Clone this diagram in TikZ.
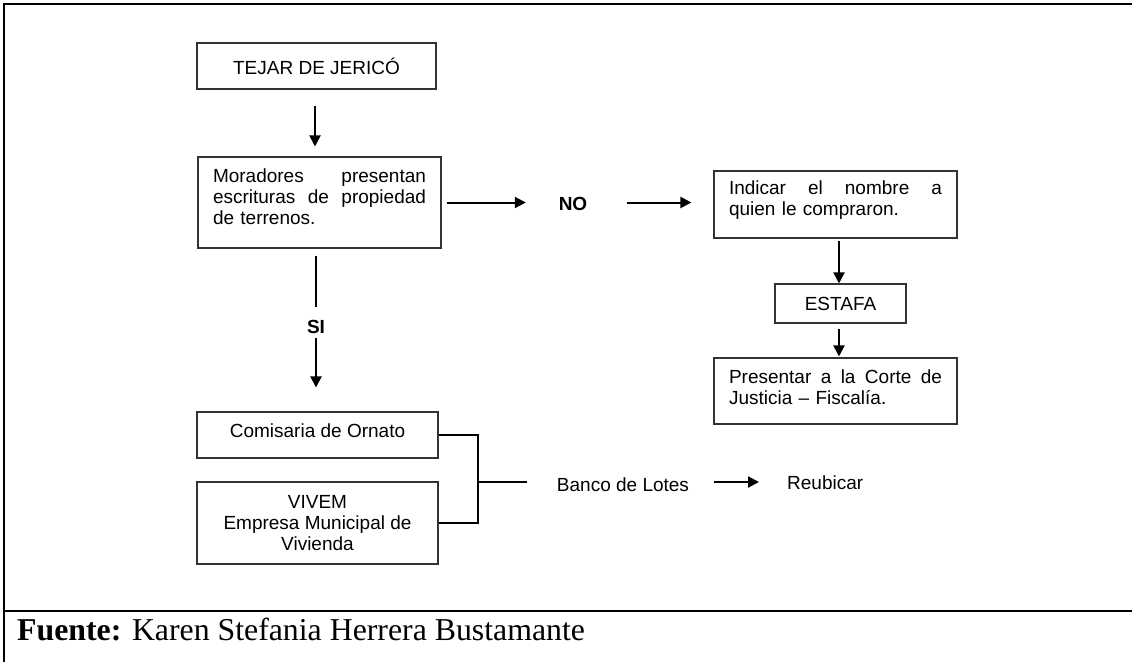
\documentclass[tikz,border=0pt]{standalone}
\usepackage{fontspec}
\setmainfont{Liberation Sans}
\newfontfamily\timesf{Liberation Serif}
\usetikzlibrary{arrows.meta}
\begin{document}
\begin{tikzpicture}[x=1pt,y=-1pt,
  box/.style={draw=black!80, line width=1.1pt, inner sep=0pt, font=\fontsize{19}{21}\selectfont},
  txt/.style={inner sep=0pt, font=\fontsize{19}{21}\selectfont},
  btxt/.style={inner sep=0pt, font=\fontsize{19}{21}\selectfont\bfseries},
  arr/.style={line width=2pt, -{Triangle[length=11pt,width=11pt]}},
  plain/.style={line width=2pt},
  thinl/.style={line width=1.1pt},
  frame/.style={line width=2.5pt}]
\useasboundingbox (0,0) rectangle (1132,662);
% outer frame
\draw[frame] (4,662) -- (4,4) -- (1132,4);
\draw[frame] (4,611) -- (1132,611);
% left column
\node[box, minimum width=239pt, minimum height=46pt] (tej) at (316.5,66) {TEJAR DE JERICÓ};
\node[box, minimum width=243pt, minimum height=91pt] (mor) at (319.5,202.5) {};
\node[txt, text width=213pt, align=left] (mort) at (319.5,197)
  {\makebox[213pt]{Moradores\hfill presentan}\\\makebox[213pt]{escrituras\hfill de\hfill propiedad}\\de terrenos.};
\node[btxt] (si) at (316,327) {SI};
\node[box, minimum width=241pt, minimum height=46pt] (com) at (317.5,435) {};
\node[txt] (comt) at (317.5,431) {Comisaria de Ornato};
\node[box, minimum width=241pt, minimum height=82pt, align=center] (viv) at (317.5,523)
  {VIVEM\\Empresa Municipal de\\Vivienda};
% right column
\node[btxt] (no) at (573,204) {NO};
\node[box, minimum width=243pt, minimum height=67pt] (ind) at (835.5,204.5) {};
\node[txt, text width=213pt, align=left] (indt) at (835.5,200.5)
  {\makebox[213pt]{Indicar\hfill el\hfill nombre\hfill a}\\quien le compraron.};
\node[box, minimum width=131pt, minimum height=39pt] (est) at (840.5,303.5) {ESTAFA};
\node[box, minimum width=243pt, minimum height=66pt] (pre) at (835.5,391) {};
\node[txt, text width=213pt, align=left] (pret) at (835.5,387)
  {\makebox[213pt]{Presentar\hfill a\hfill la\hfill Corte\hfill de}\\Justicia -- Fiscalía.};
% bottom middle
\node[txt] (ban) at (623,485) {Banco de Lotes};
\node[txt, anchor=west] (reu) at (787,483) {Reubicar};
% source
\node[anchor=base west, inner sep=0pt, font=\timesf\fontsize{31.8}{36}\selectfont] (src) at (17,640)
  {\textbf{Fuente:} Karen Stefania Herrera Bustamante};
% helper coordinates
\coordinate (xa) at (315,0);
\coordinate (xb) at (839,0);
\coordinate (xc) at (316,0);
\coordinate (brk) at (478,482);
% connectors
\draw[arr, shorten <=16pt, shorten >=10pt] (tej.south -| xa) -- (mor.north -| xa);
\draw[arr, shorten <=5pt, shorten >=32.75pt] (mor.east) -- (mor.east -| no.west);
\draw[arr, shorten <=39.75pt, shorten >=22pt] (mor.east -| no.east) -- (mor.east -| ind.west);
\draw[arr, shorten <=2pt] (ind.south -| xb) -- (est.north -| xb);
\draw[arr, shorten <=5pt, shorten >=1pt] (est.south -| xb) -- (pre.north -| xb);
\draw[plain, shorten <=7pt, shorten >=13pt] (mor.south -| xc) -- (si.north -| xc);
\draw[arr, shorten <=4pt, shorten >=24pt] (si.south -| xc) -- (com.north -| xc);
\draw[thinl] (com.east) -| (brk) |- (viv.east);
\draw[thinl, shorten >=30pt] (brk) -- (brk -| ban.west);
\draw[arr, shorten <=25pt, shorten >=28pt] (brk -| ban.east) -- (brk -| reu.west);
\end{tikzpicture}
\end{document}
